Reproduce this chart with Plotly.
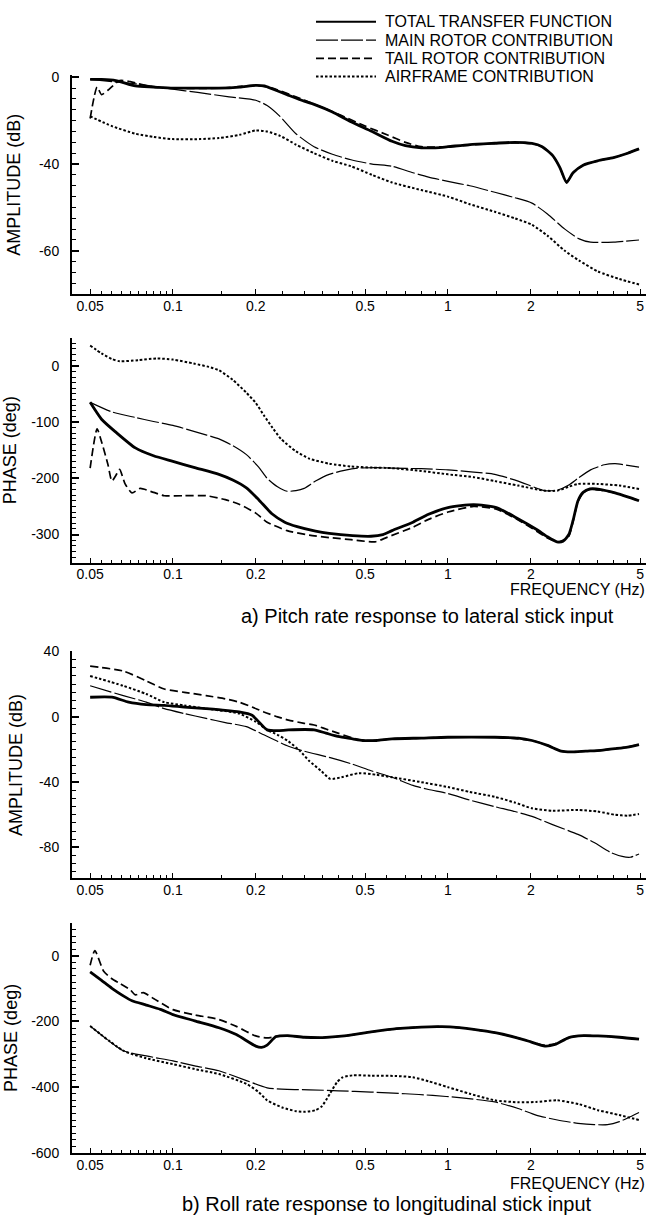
import math
import plotly.graph_objects as go

# ---------------- data ----------------
# a) Pitch rate response to lateral stick input -- amplitude (dB)
amp_a_total_f = [0.05, 0.055, 0.062, 0.073, 0.085, 0.1, 0.12, 0.147, 0.175, 0.2, 0.215, 0.229, 0.26, 0.3, 0.326, 0.38, 0.444, 0.53, 0.626, 0.7, 0.8, 0.9, 1.0, 1.2, 1.48, 1.75, 2.02, 2.2, 2.4, 2.55, 2.7, 2.85, 3.1, 3.5, 4.0, 4.5, 4.95]
amp_a_total_v = [-1, -1, -1.5, -4, -4.5, -5, -5, -5, -4.5, -3.7, -4, -5.3, -8, -11, -12.5, -16, -20.5, -25, -29.5, -31.5, -32.5, -32.5, -32, -31, -30.4, -30, -30.5, -32, -36, -41.5, -48.5, -44, -40.5, -38.5, -37, -35, -33]
amp_a_main_f = [0.05, 0.06, 0.073, 0.1, 0.123, 0.16, 0.2, 0.22, 0.245, 0.28, 0.326, 0.38, 0.444, 0.53, 0.626, 0.746, 0.85, 1.0, 1.2, 1.48, 1.75, 2.02, 2.3, 2.66, 3.0, 3.3, 4.0, 4.95]
amp_a_main_v = [-1, -2, -3, -5.5, -7, -9, -10.6, -13, -18, -26, -32, -35.5, -38, -40, -41, -44, -46, -48, -50, -53, -55.5, -58, -63, -70, -74.5, -76, -76, -75]
amp_a_tail_f = [0.05, 0.053, 0.055, 0.058, 0.064, 0.07, 0.075, 0.085, 0.1, 0.15, 0.2, 0.23, 0.3, 0.4, 0.5, 0.6, 0.7, 0.8, 1.0, 1.5, 2.0, 2.2, 2.4, 2.55, 2.7, 2.85, 3.1, 3.5, 4.0, 4.5, 4.95]
amp_a_tail_v = [-19, -4.5, -8, -6, -1.5, -2, -3, -4.5, -5, -5, -3.7, -5, -10.5, -17, -22.5, -26.5, -30, -32, -32, -30.4, -30.5, -32, -36, -41.5, -48.5, -44, -40.5, -38.5, -37, -35, -33]
amp_a_air_f = [0.05, 0.06, 0.073, 0.085, 0.1, 0.125, 0.147, 0.175, 0.2, 0.22, 0.245, 0.28, 0.326, 0.38, 0.444, 0.53, 0.626, 0.8, 1.0, 1.2, 1.48, 1.75, 2.02, 2.3, 2.66, 3.0, 3.51, 4.2, 4.95]
amp_a_air_v = [-18, -22.5, -26, -27.5, -28.5, -28.5, -28, -26.5, -24.5, -25, -27, -31, -35, -38.5, -41, -45, -48.5, -52, -55, -58.5, -62, -65, -68, -73, -80, -84.5, -89.5, -93, -95.5]

# a) phase (deg)
ph_a_total_f = [0.05, 0.055, 0.062, 0.073, 0.085, 0.1, 0.12, 0.147, 0.165, 0.185, 0.205, 0.229, 0.255, 0.283, 0.33, 0.37, 0.45, 0.525, 0.58, 0.626, 0.746, 0.85, 1.0, 1.24, 1.5, 1.77, 2.1, 2.3, 2.49, 2.62, 2.75, 2.85, 2.97, 3.1, 3.28, 3.6, 4.05, 4.5, 4.95]
ph_a_total_v = [-65, -95, -118, -146, -160, -170, -181, -193, -203, -217, -238, -263, -278, -286, -294, -298, -302, -303, -300, -293, -278, -264, -252, -247, -252, -270, -291, -304, -313, -312, -300, -275, -240, -225, -219, -220, -226, -233, -240]
ph_a_main_f = [0.05, 0.06, 0.073, 0.085, 0.1, 0.12, 0.147, 0.165, 0.185, 0.205, 0.22, 0.24, 0.26, 0.28, 0.3, 0.33, 0.37, 0.42, 0.47, 0.55, 0.626, 0.8, 1.0, 1.24, 1.48, 1.8, 2.25, 2.5, 2.75, 2.97, 3.3, 3.7, 4.05, 4.5, 4.95]
ph_a_main_v = [-65, -82, -92, -99, -106, -117, -130, -142, -158, -180, -200, -215, -223, -222, -218, -205, -193, -186, -182, -181, -182, -183, -185, -189, -193, -205, -222, -221, -212, -200, -185, -176, -174, -177, -180]
ph_a_tail_f = [0.05, 0.053, 0.055, 0.058, 0.06, 0.062, 0.064, 0.067, 0.071, 0.076, 0.085, 0.093, 0.11, 0.132, 0.155, 0.174, 0.2, 0.22, 0.26, 0.313, 0.38, 0.444, 0.543, 0.6, 0.746, 0.85, 1.0, 1.24, 1.5, 1.77, 2.1, 2.3, 2.49, 2.62, 2.75, 2.85, 2.97, 3.1, 3.28, 3.6, 4.05, 4.5, 4.95]
ph_a_tail_v = [-182, -112, -135, -175, -205, -195, -184, -210, -226, -218, -225, -231, -231, -231, -238, -246, -262, -278, -293, -301, -306, -309, -313, -305, -287, -273, -260, -250, -255, -272, -294, -306, -313, -310, -303, -277, -241, -226, -220, -221, -226, -233, -240]
ph_a_air_f = [0.05, 0.055, 0.06, 0.064, 0.075, 0.0875, 0.1, 0.119, 0.135, 0.147, 0.165, 0.185, 0.2, 0.214, 0.23, 0.247, 0.28, 0.313, 0.37, 0.444, 0.53, 0.626, 0.8, 1.0, 1.24, 1.48, 1.8, 2.25, 2.5, 2.75, 2.97, 3.5, 4.2, 4.95]
ph_a_air_v = [36, 22, 12, 8, 10, 13, 11, 4, -2, -8, -25, -48, -66, -88, -110, -130, -152, -165, -174, -179, -181, -182, -187, -193, -198, -205, -213, -222, -222, -215, -210, -210, -213, -219]

# b) Roll rate response to longitudinal stick input -- amplitude (dB)
amp_b_total_f = [0.05, 0.06, 0.069, 0.08, 0.093, 0.11, 0.132, 0.155, 0.174, 0.194, 0.205, 0.22, 0.24, 0.263, 0.326, 0.36, 0.398, 0.45, 0.49, 0.55, 0.626, 0.8, 1.0, 1.48, 1.8, 2.02, 2.3, 2.58, 2.8, 3.17, 3.6, 4.05, 4.5, 4.95]
amp_b_total_v = [12, 12, 9, 7.5, 7, 6, 5, 4, 3, 1, -3, -8, -8.5, -8, -8, -10, -12, -13.5, -14.5, -14.5, -13.5, -13, -12.5, -12.5, -13, -14.5, -17.5, -21, -21.5, -21, -20.5, -19.5, -18.5, -17]
amp_b_tail_f = [0.05, 0.066, 0.08, 0.093, 0.11, 0.132, 0.155, 0.174, 0.194, 0.214, 0.24, 0.263, 0.3, 0.326, 0.36, 0.398, 0.45, 0.49, 0.55, 0.626, 0.8, 1.0, 1.48, 2.02, 2.3, 2.58, 2.8, 3.17, 3.6, 4.05, 4.5, 4.95]
amp_b_tail_v = [31, 28, 22, 17, 15, 13, 11, 9, 6, 3, 0, -2, -4, -5, -7.5, -10, -13, -14.5, -14.5, -13.5, -13, -12.5, -12.5, -14.5, -17.5, -21, -21.5, -21, -20.5, -19.5, -18.5, -17]
amp_b_air_f = [0.05, 0.066, 0.08, 0.093, 0.11, 0.132, 0.155, 0.174, 0.2, 0.22, 0.24, 0.263, 0.29, 0.313, 0.345, 0.373, 0.41, 0.474, 0.55, 0.626, 0.8, 1.0, 1.2, 1.48, 1.75, 2.02, 2.4, 2.97, 3.5, 4.05, 4.5, 4.95]
amp_b_air_v = [25, 19, 14, 9, 7, 5, 3.5, 2, -3, -8, -11, -15, -21, -27, -33, -38, -37, -34.5, -35.5, -37, -40, -43, -46, -49, -52.5, -56, -57.5, -57, -58, -60, -60.5, -59.5]
amp_b_main_f = [0.05, 0.066, 0.08, 0.093, 0.11, 0.132, 0.155, 0.185, 0.214, 0.24, 0.263, 0.3, 0.373, 0.45, 0.525, 0.626, 0.746, 0.85, 1.0, 1.2, 1.48, 1.75, 2.02, 2.4, 2.97, 3.4, 3.9, 4.3, 4.6, 4.95]
amp_b_main_v = [19, 13, 9, 5, 2, -1, -3.5, -6, -11, -15, -18, -21, -25, -29, -33, -37, -42, -44.5, -47, -51, -55, -58, -61, -66, -72, -77, -83, -85.5, -86, -84]

# b) phase (deg)
ph_b_total_f = [0.05, 0.055, 0.06, 0.066, 0.071, 0.08, 0.09, 0.1, 0.12, 0.147, 0.17, 0.2, 0.21, 0.22, 0.237, 0.26, 0.3, 0.35, 0.42, 0.525, 0.65, 0.8, 0.95, 1.1, 1.24, 1.5, 1.77, 2.0, 2.25, 2.45, 2.75, 3.1, 3.51, 4.2, 4.95]
ph_b_total_v = [-49, -75, -99, -122, -137, -150, -163, -179, -198, -219, -240, -275, -279, -272, -246, -243, -248, -249, -244, -232, -222, -217, -216, -219, -224, -235, -249, -262, -275, -270, -249, -243, -244, -248, -254]
ph_b_tail_f = [0.05, 0.052, 0.056, 0.06, 0.064, 0.07, 0.073, 0.078, 0.085, 0.1, 0.12, 0.147, 0.17, 0.2, 0.22, 0.237, 0.26, 0.3, 0.35, 0.42, 0.525, 0.65, 0.8, 0.95, 1.1, 1.24, 1.5, 1.77, 2.0, 2.25, 2.45, 2.75, 3.1, 3.51, 4.2, 4.95]
ph_b_tail_v = [-29, 16, -47, -70, -84, -104, -119, -112, -130, -164, -180, -194, -215, -244, -250, -246, -243, -248, -249, -244, -232, -222, -217, -216, -219, -224, -235, -249, -262, -272, -268, -249, -243, -244, -248, -254]
ph_b_air_f = [0.05, 0.066, 0.08, 0.1, 0.12, 0.147, 0.185, 0.205, 0.22, 0.25, 0.28, 0.302, 0.33, 0.348, 0.372, 0.395, 0.414, 0.45, 0.525, 0.65, 0.746, 0.85, 1.0, 1.2, 1.48, 1.8, 2.09, 2.49, 3.0, 3.51, 4.2, 4.95]
ph_b_air_v = [-214, -289, -312, -330, -345, -360, -390, -415, -440, -462, -473, -475, -470, -458, -420, -385, -370, -364, -365, -366, -370, -382, -400, -420, -440, -446, -445, -440, -452, -470, -485, -500]
ph_b_main_f = [0.05, 0.066, 0.08, 0.1, 0.12, 0.147, 0.185, 0.22, 0.26, 0.313, 0.4, 0.525, 0.7, 0.88, 1.1, 1.48, 1.8, 2.09, 2.5, 2.97, 3.4, 3.8, 4.2, 4.6, 4.95]
ph_b_main_v = [-214, -289, -305, -320, -335, -350, -380, -402, -407, -408, -411, -415, -420, -425, -432, -445, -465, -485, -500, -510, -514, -514, -505, -490, -477]

# axis tick labels
freq_ticks = [0.05, 0.1, 0.2, 0.5, 1, 2, 5]
freq_ticktext = ["0.05", "0.1", "0.2", "0.5", "1", "2", "5"]
freq_minor = [0.06, 0.07, 0.08, 0.09, 0.3, 0.4, 0.6, 0.7, 0.8, 0.9, 3, 4,
              0.15, 0.25, 0.35, 0.45, 1.5, 2.5, 3.5, 4.5, 0.055, 0.065, 0.075, 0.085, 0.095]
amp_a_ticks = [0, -40, -80]
amp_a_ticktext = ["0", "-40", "-60"]
ph_a_ticks = [0, -100, -200, -300]
amp_b_ticks = [40, 0, -40, -80]
ph_b_ticks = [0, -200, -400, -600]

legend_names = ["TOTAL TRANSFER FUNCTION", "MAIN ROTOR CONTRIBUTION",
                "TAIL ROTOR CONTRIBUTION", "AIRFRAME CONTRIBUTION"]
caption_a = "a) Pitch rate response to lateral stick input"
caption_b = "b) Roll rate response to longitudinal stick input"

# ---------------- layout helpers ----------------
W, H = 647, 1227
ML, MR = 72, 1
PW = W - ML - MR
FONT = "Liberation Sans, Arial, Helvetica, sans-serif"


def px_x(px):
    return (px - ML) / PW


def px_y(py):
    return 1 - py / H


styles = {
    "total": dict(color="black", width=2.8, dash="solid"),
    "main": dict(color="black", width=1.2, dash="22px,3px"),
    "tail": dict(color="black", width=1.7, dash="8px,4px"),
    "air": dict(color="black", width=2.0, dash="2.5px,2px"),
}
names = dict(zip(["total", "main", "tail", "air"], legend_names))

panels = [
    ("x", "y", [("total", amp_a_total_f, amp_a_total_v), ("main", amp_a_main_f, amp_a_main_v),
                ("tail", amp_a_tail_f, amp_a_tail_v), ("air", amp_a_air_f, amp_a_air_v)]),
    ("x2", "y2", [("total", ph_a_total_f, ph_a_total_v), ("main", ph_a_main_f, ph_a_main_v),
                  ("tail", ph_a_tail_f, ph_a_tail_v), ("air", ph_a_air_f, ph_a_air_v)]),
    ("x3", "y3", [("total", amp_b_total_f, amp_b_total_v), ("main", amp_b_main_f, amp_b_main_v),
                  ("tail", amp_b_tail_f, amp_b_tail_v), ("air", amp_b_air_f, amp_b_air_v)]),
    ("x4", "y4", [("total", ph_b_total_f, ph_b_total_v), ("main", ph_b_main_f, ph_b_main_v),
                  ("tail", ph_b_tail_f, ph_b_tail_v), ("air", ph_b_air_f, ph_b_air_v)]),
]

fig = go.Figure()
for xa, ya, series in panels:
    for key, f, v in series:
        fig.add_trace(go.Scatter(x=f, y=v, mode="lines", name=names[key],
                                 line=dict(shape="spline", smoothing=0.6, **styles[key]),
                                 xaxis=xa, yaxis=ya, showlegend=False))

xcommon = dict(type="log", range=[-1.367, 0.72], showline=True, linewidth=2, linecolor="black",
               ticks="inside", ticklen=5, tickwidth=1.3, tickcolor="black",
               tickmode="array", tickvals=freq_ticks, ticktext=freq_ticktext,
               minor=dict(tickmode="array", tickvals=freq_minor, ticks="inside", ticklen=3,
                          tickwidth=1, tickcolor="black", showgrid=False),
               showgrid=False, zeroline=False, tickfont=dict(family=FONT, size=14, color="black"),
               ticklabelstandoff=-2, domain=[0, 1])

ycommon = dict(showline=True, linewidth=2, linecolor="black", ticks="inside", ticklen=7,
               tickwidth=1.5, tickcolor="black", showgrid=False, zeroline=False,
               tickfont=dict(family=FONT, size=14, color="black"), ticklabelstandoff=8,
               tickmode="array")

domains = [(290, 68), (562, 334), (882, 652), (1160, 927)]
yranges = [[-100, 1], [-350, 50], [-99, 40], [-600, 100]]
yticks = [(amp_a_ticks, amp_a_ticktext), (ph_a_ticks, [str(t) for t in ph_a_ticks]),
          (amp_b_ticks, [str(t) for t in amp_b_ticks]), (ph_b_ticks, [str(t) for t in ph_b_ticks])]
minor_dt = [5, 10, 5, 20]
ytitles = ["AMPLITUDE (dB)", "PHASE (deg)", "AMPLITUDE (dB)", "PHASE (deg)"]
standoffs = [14, 10, 12, 9]

layout = dict(width=W, height=H, margin=dict(l=ML, r=MR, t=0, b=0),
              paper_bgcolor="white", plot_bgcolor="white", showlegend=False,
              font=dict(family=FONT, color="black"))
for i in range(4):
    sfx = "" if i == 0 else str(i + 1)
    xd = dict(xcommon)
    xd["anchor"] = "y" + sfx
    layout["xaxis" + sfx] = xd
    yd = dict(ycommon)
    yd.update(anchor="x" + sfx, range=yranges[i],
              domain=[px_y(domains[i][0]), px_y(domains[i][1])],
              tickvals=yticks[i][0], ticktext=yticks[i][1],
              minor=dict(dtick=minor_dt[i], ticks="inside", ticklen=4, tickwidth=1,
                         tickcolor="black", showgrid=False),
              title=dict(text=ytitles[i], standoff=standoffs[i],
                         font=dict(family=FONT, size=18, color="black")))
    layout["yaxis" + sfx] = yd

fig.update_layout(**layout)

# legend (drawn as sample lines + text, placed above the first panel)
leg_rows = [14, 32.5, 51, 69.5]
for key, row in zip(["total", "main", "tail", "air"], leg_rows):
    st = styles[key]
    fig.add_shape(type="line", xref="paper", yref="paper",
                  x0=px_x(316), x1=px_x(376), y0=px_y(row), y1=px_y(row),
                  line=dict(color="black", width=st["width"] if key != "total" else 2,
                            dash=st["dash"]))
    fig.add_annotation(text=names[key], xref="paper", yref="paper", x=px_x(384), y=px_y(row),
                       xanchor="left", yanchor="middle", showarrow=False, borderpad=0,
                       font=dict(family=FONT, size=16, color="black"))

# frequency labels and captions
for yrow in (589, 1191):
    fig.add_annotation(text="FREQUENCY (Hz)", xref="paper", yref="paper", x=px_x(647), y=px_y(yrow),
                       xanchor="right", yanchor="middle", showarrow=False,
                       font=dict(family=FONT, size=16, color="black"))
fig.add_annotation(text=caption_a, xref="paper", yref="paper", x=px_x(427), y=px_y(616),
                   xanchor="center", yanchor="middle", showarrow=False,
                   font=dict(family=FONT, size=20, color="black"))
fig.add_annotation(text=caption_b, xref="paper", yref="paper", x=px_x(387), y=px_y(1212),
                   xanchor="center", yanchor="middle", showarrow=False,
                   font=dict(family=FONT, size=20, color="black"))

fig.write_html("out.html")
